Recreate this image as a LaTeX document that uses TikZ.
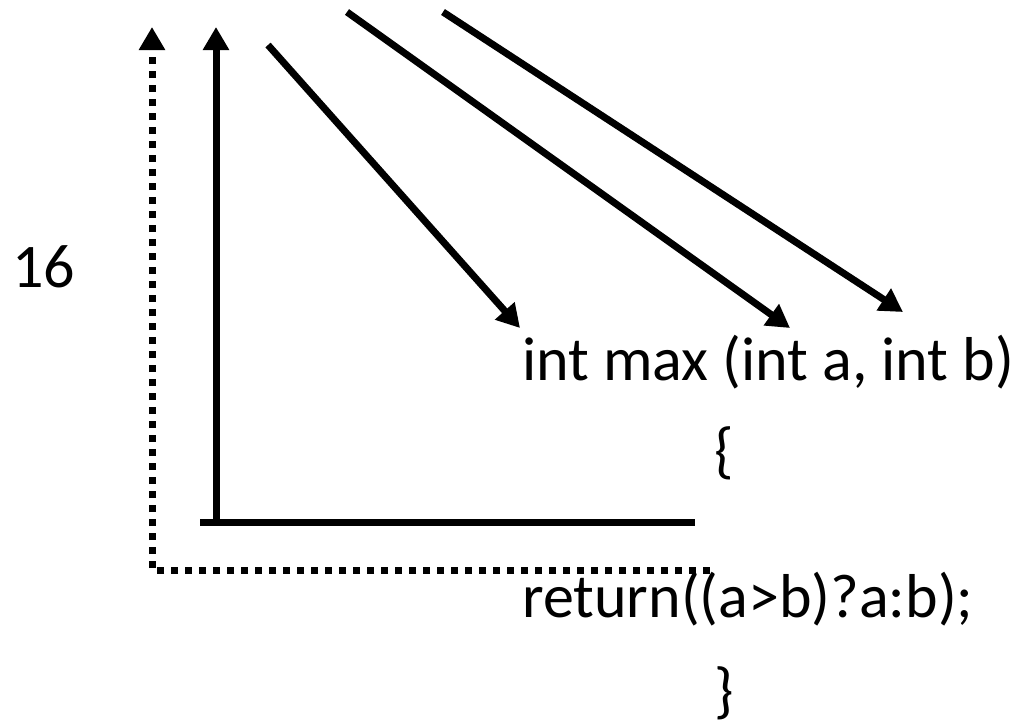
\documentclass[tikz,border=0pt]{standalone}
\usepackage{fontspec}
\setmainfont{Carlito}
\usetikzlibrary{arrows.meta}
\begin{document}
\begin{tikzpicture}[x=1pt,y=-1pt,
  lbl/.style={inner sep=0pt,anchor=base west,font=\fontsize{62}{70}\selectfont},
  thick line/.style={line width=7pt},
  tipped/.style={thick line,-{Triangle[length=23pt,width=25pt]}},
  dotline/.style={line width=7pt,dash pattern=on 7pt off 7pt}]
\useasboundingbox (0,0) rectangle (1033,721);
% texts
\node[lbl] (t16) at (12,287) {16};
\node[lbl] (sig) at (522,380) {int max (int a, int b)};
\node[lbl] (lb) at (714,471) {\{};
\node[lbl] (ret) at (522,617) {return((a>b)?a:b);};
\node[lbl] (rb) at (714,711) {\}};
% coordinates
\coordinate (dotEnd) at (710,570);
\coordinate (dotCorner) at (152,570);
\coordinate (dotTip) at (152,27);
\coordinate (hL) at (200,522);
\coordinate (hR) at (695,522);
\coordinate (vB) at (216,522);
\coordinate (vT) at (216,27);
\coordinate (a1s) at (268,45);
\coordinate (a1e) at (520,328);
\coordinate (a2s) at (347,12);
\coordinate (a2e) at (790,328);
\coordinate (a3s) at (443,12);
\coordinate (a3e) at (903,312);
% dotted frame
\draw[dotline,-{Triangle[length=23pt,width=25pt]}] (dotEnd) -- (dotCorner) -- (dotTip);
% solid frame
\draw[thick line] (hL) -- (hR);
\draw[tipped] (vB) -- (vT);
% diagonal arrows
\draw[tipped] (a1s) -- (a1e);
\draw[tipped] (a2s) -- (a2e);
\draw[tipped] (a3s) -- (a3e);
\end{tikzpicture}
\end{document}
